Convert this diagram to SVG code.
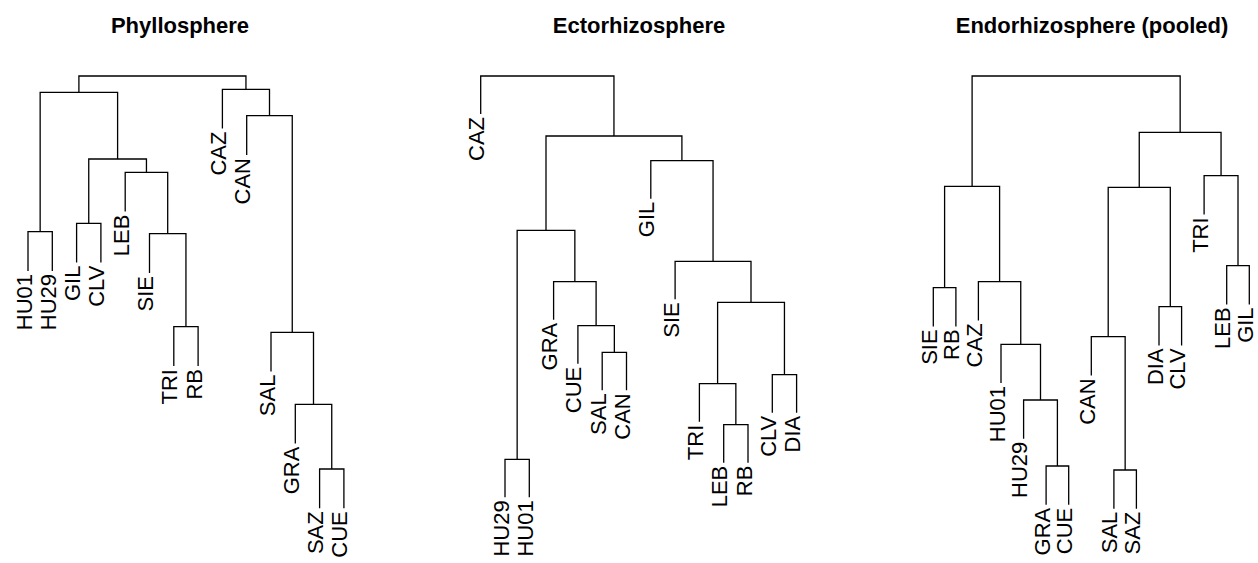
<svg xmlns="http://www.w3.org/2000/svg" width="1258" height="563" viewBox="0 0 1258 563">
<style>
.title{font-family:"Liberation Sans",Arial,sans-serif;font-weight:bold;font-size:22px;text-anchor:middle;fill:#000}
.lbl{font-family:"Liberation Sans",Arial,sans-serif;font-size:22px;text-anchor:end;fill:#000}
.br{fill:none;stroke:#000;stroke-width:1.3}
</style>
<rect width="1258" height="563" fill="#fff"/>
<text class="title" x="180" y="33">Phyllosphere</text>
<text class="title" x="639" y="33">Ectorhizosphere</text>
<text class="title" x="1092" y="33">Endorhizosphere (pooled)</text>
<g id="connectors">
<g id="conn-phyllosphere" class="br">
<path d="M28,271 V231.7 H52.3 V271"/>
<path d="M76.6,262.6 V223.3 H100.9 V262.6"/>
<path d="M173.8,366 V326.7 H198.1 V366"/>
<path d="M149.5,273 V233.7 H185.95 V326.7"/>
<path d="M125.2,211.6 V172.3 H167.7 V233.7"/>
<path d="M88.75,223.3 V159 H146.45 V172.3"/>
<path d="M40.15,231.7 V92.3 H117.6 V159"/>
<path d="M319.6,508.3 V469 H343.9 V508.3"/>
<path d="M295.3,443.6 V404.3 H331.75 V469"/>
<path d="M271,371.6 V332.3 H313.5 V404.3"/>
<path d="M246.7,155 V115.7 H292.25 V332.3"/>
<path d="M222.4,128.6 V89.3 H269.5 V115.7"/>
<path d="M78.9,92.3 V76 H245.95 V89.3"/>
</g>
<g id="conn-ectorhizosphere" class="br">
<path d="M505,497.3 V459.3 H529.3 V497.3"/>
<path d="M602.2,390.3 V352.3 H626.5 V390.3"/>
<path d="M577.9,363.7 V325.7 H614.35 V352.3"/>
<path d="M553.6,319.7 V281.7 H596.1 V325.7"/>
<path d="M517.15,459.3 V230.3 H574.85 V281.7"/>
<path d="M723.7,462.7 V424.7 H748 V462.7"/>
<path d="M699.4,421.7 V383.7 H735.85 V424.7"/>
<path d="M772.3,412.7 V374.7 H796.6 V412.7"/>
<path d="M717.6,383.7 V302.3 H784.45 V374.7"/>
<path d="M675.1,299.3 V261.3 H751 V302.3"/>
<path d="M650.8,198.7 V160.7 H713.05 V261.3"/>
<path d="M546,230.3 V136 H681.9 V160.7"/>
<path d="M480.7,114 V76 H613.95 V136"/>
</g>
<g id="conn-endorhizosphere" class="br">
<path d="M933.3,326.4 V287.7 H955.9 V326.4"/>
<path d="M1046.1,504.7 V466 H1068.7 V504.7"/>
<path d="M1023.6,438.7 V400 H1057.4 V466"/>
<path d="M1001,383 V344.3 H1040.5 V400"/>
<path d="M978.4,320.4 V281.7 H1020.75 V344.3"/>
<path d="M944.6,287.7 V186.3 H999.6 V281.7"/>
<path d="M1113.9,508.7 V470 H1136.4 V508.7"/>
<path d="M1091.3,375.4 V336.7 H1125.15 V470"/>
<path d="M1159,345.4 V306.7 H1181.6 V345.4"/>
<path d="M1108.2,336.7 V187.3 H1170.3 V306.7"/>
<path d="M1226.7,304.4 V265.7 H1249.3 V304.4"/>
<path d="M1204.1,214.4 V175.7 H1238 V265.7"/>
<path d="M1139.25,187.3 V132.3 H1221.05 V175.7"/>
<path d="M972.1,186.3 V76 H1180.15 V132.3"/>
</g>
</g>
<g id="phyllosphere">
<g id="p1-HU01"><text class="lbl" transform="translate(31.5,274) rotate(-90)">HU01</text></g>
<g id="p1-HU29"><text class="lbl" transform="translate(55.8,274) rotate(-90)">HU29</text></g>
<g id="p1-GIL"><text class="lbl" transform="translate(80.1,265.6) rotate(-90)">GIL</text></g>
<g id="p1-CLV"><text class="lbl" transform="translate(104.4,265.6) rotate(-90)">CLV</text></g>
<g id="p1-LEB"><text class="lbl" transform="translate(128.7,214.6) rotate(-90)">LEB</text></g>
<g id="p1-SIE"><text class="lbl" transform="translate(153,276) rotate(-90)">SIE</text></g>
<g id="p1-TRI"><text class="lbl" transform="translate(177.3,369) rotate(-90)">TRI</text></g>
<g id="p1-RB"><text class="lbl" transform="translate(201.6,369) rotate(-90)">RB</text></g>
<g id="p1-CAZ"><text class="lbl" transform="translate(225.9,131.6) rotate(-90)">CAZ</text></g>
<g id="p1-CAN"><text class="lbl" transform="translate(250.2,158) rotate(-90)">CAN</text></g>
<g id="p1-SAL"><text class="lbl" transform="translate(274.5,374.6) rotate(-90)">SAL</text></g>
<g id="p1-GRA"><text class="lbl" transform="translate(298.8,446.6) rotate(-90)">GRA</text></g>
<g id="p1-SAZ"><text class="lbl" transform="translate(323.1,511.3) rotate(-90)">SAZ</text></g>
<g id="p1-CUE"><text class="lbl" transform="translate(347.4,511.3) rotate(-90)">CUE</text></g>
</g>
<g id="ectorhizosphere">
<g id="p2-CAZ"><text class="lbl" transform="translate(484.2,117) rotate(-90)">CAZ</text></g>
<g id="p2-HU29"><text class="lbl" transform="translate(508.5,500.3) rotate(-90)">HU29</text></g>
<g id="p2-HU01"><text class="lbl" transform="translate(532.8,500.3) rotate(-90)">HU01</text></g>
<g id="p2-GRA"><text class="lbl" transform="translate(557.1,322.7) rotate(-90)">GRA</text></g>
<g id="p2-CUE"><text class="lbl" transform="translate(581.4,366.7) rotate(-90)">CUE</text></g>
<g id="p2-SAL"><text class="lbl" transform="translate(605.7,393.3) rotate(-90)">SAL</text></g>
<g id="p2-CAN"><text class="lbl" transform="translate(630,393.3) rotate(-90)">CAN</text></g>
<g id="p2-GIL"><text class="lbl" transform="translate(654.3,201.7) rotate(-90)">GIL</text></g>
<g id="p2-SIE"><text class="lbl" transform="translate(678.6,302.3) rotate(-90)">SIE</text></g>
<g id="p2-TRI"><text class="lbl" transform="translate(702.9,424.7) rotate(-90)">TRI</text></g>
<g id="p2-LEB"><text class="lbl" transform="translate(727.2,465.7) rotate(-90)">LEB</text></g>
<g id="p2-RB"><text class="lbl" transform="translate(751.5,465.7) rotate(-90)">RB</text></g>
<g id="p2-CLV"><text class="lbl" transform="translate(775.8,415.7) rotate(-90)">CLV</text></g>
<g id="p2-DIA"><text class="lbl" transform="translate(800.1,415.7) rotate(-90)">DIA</text></g>
</g>
<g id="endorhizosphere">
<g id="p3-SIE"><text class="lbl" transform="translate(936.8,329.4) rotate(-90)">SIE</text></g>
<g id="p3-RB"><text class="lbl" transform="translate(959.4,329.4) rotate(-90)">RB</text></g>
<g id="p3-CAZ"><text class="lbl" transform="translate(981.9,323.4) rotate(-90)">CAZ</text></g>
<g id="p3-HU01"><text class="lbl" transform="translate(1004.5,386) rotate(-90)">HU01</text></g>
<g id="p3-HU29"><text class="lbl" transform="translate(1027.1,441.7) rotate(-90)">HU29</text></g>
<g id="p3-GRA"><text class="lbl" transform="translate(1049.6,507.7) rotate(-90)">GRA</text></g>
<g id="p3-CUE"><text class="lbl" transform="translate(1072.2,507.7) rotate(-90)">CUE</text></g>
<g id="p3-CAN"><text class="lbl" transform="translate(1094.8,378.4) rotate(-90)">CAN</text></g>
<g id="p3-SAL"><text class="lbl" transform="translate(1117.4,511.7) rotate(-90)">SAL</text></g>
<g id="p3-SAZ"><text class="lbl" transform="translate(1139.9,511.7) rotate(-90)">SAZ</text></g>
<g id="p3-DIA"><text class="lbl" transform="translate(1162.5,348.4) rotate(-90)">DIA</text></g>
<g id="p3-CLV"><text class="lbl" transform="translate(1185.1,348.4) rotate(-90)">CLV</text></g>
<g id="p3-TRI"><text class="lbl" transform="translate(1207.6,217.4) rotate(-90)">TRI</text></g>
<g id="p3-LEB"><text class="lbl" transform="translate(1230.2,307.4) rotate(-90)">LEB</text></g>
<g id="p3-GIL"><text class="lbl" transform="translate(1252.8,307.4) rotate(-90)">GIL</text></g>
</g>
</svg>
